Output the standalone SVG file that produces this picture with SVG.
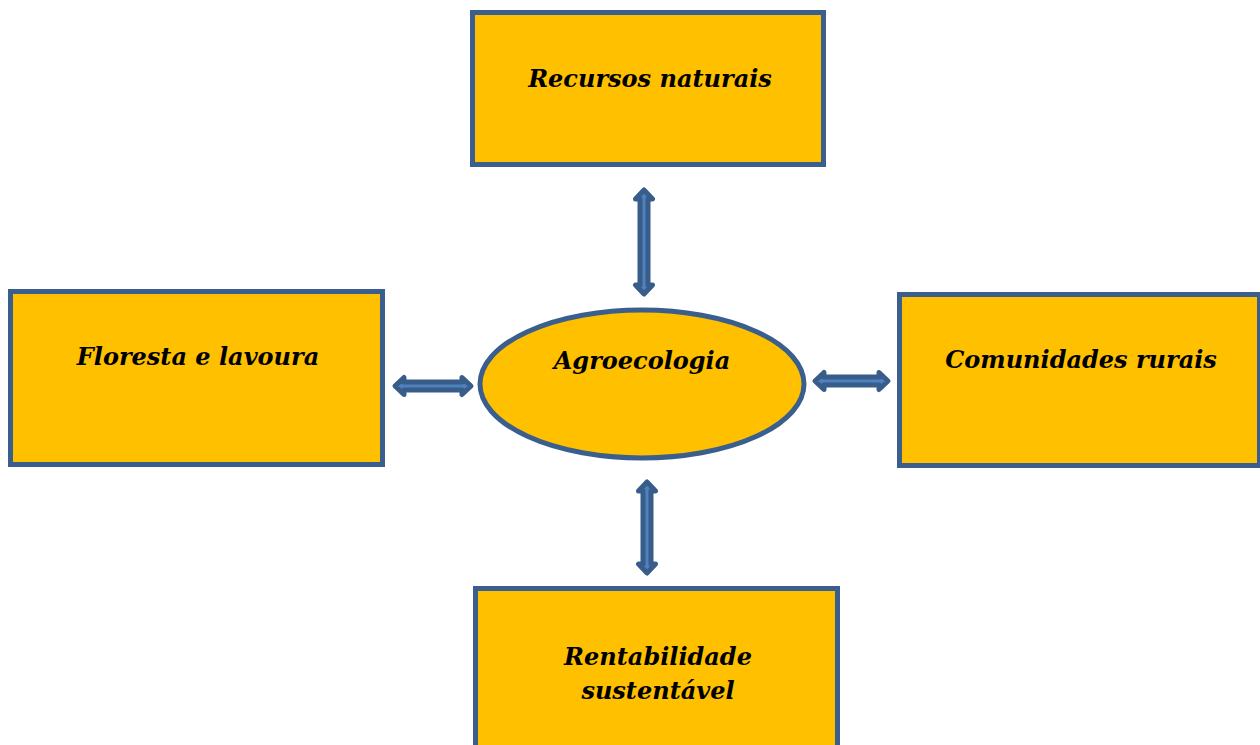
<svg xmlns="http://www.w3.org/2000/svg" width="1260" height="745" viewBox="0 0 1260 745">
<style>
.box{fill:#FFC000;stroke:#3A5F8E;stroke-width:5}
.lbl{font-family:"DejaVu Serif","Liberation Serif",serif;font-weight:bold;font-style:italic;font-size:24px;fill:#000;text-anchor:middle}
.arr{fill:#4F81BD;stroke:#385D8A;stroke-width:5;stroke-linejoin:round}
</style>
<rect width="1260" height="745" fill="#fff"/>
<g id="recursos">
<rect class="box" x="472.5" y="12.5" width="351" height="152"/>
<text class="lbl" x="650" y="87">Recursos naturais</text>
</g>
<g id="floresta">
<rect class="box" x="10.5" y="291.5" width="372" height="173"/>
<text class="lbl" x="198" y="365">Floresta e lavoura</text>
</g>
<g id="comunidades">
<rect class="box" x="899.5" y="294.5" width="360" height="171"/>
<text class="lbl" x="1081" y="368">Comunidades rurais</text>
</g>
<g id="rentabilidade">
<rect class="box" x="475.5" y="588.5" width="362" height="170"/>
<text class="lbl" x="658" y="665">Rentabilidade</text>
<text class="lbl" x="658" y="699">sustentável</text>
</g>
<g id="agroecologia">
<ellipse class="box" cx="642" cy="384" rx="162" ry="74" stroke-width="4"/>
<text class="lbl" x="642" y="369">Agroecologia</text>
</g>
<g id="connectors">
<polygon class="arr" points="644,190 652.5,199 648,199 648,285 652.5,285 644,294 635.5,285 640,285 640,199 635.5,199"/>
<polygon class="arr" points="647,482 655.5,491 651,491 651,564 655.5,564 647,573 638.5,564 643,564 643,491 638.5,491"/>
<polygon class="arr" points="395,386 404,377.5 404,382 462,382 462,377.5 471,386 462,394.5 462,390 404,390 404,394.5"/>
<polygon class="arr" points="815,381 824,372.5 824,377 879,377 879,372.5 888,381 879,389.5 879,385 824,385 824,389.5"/>
</g>
</svg>
